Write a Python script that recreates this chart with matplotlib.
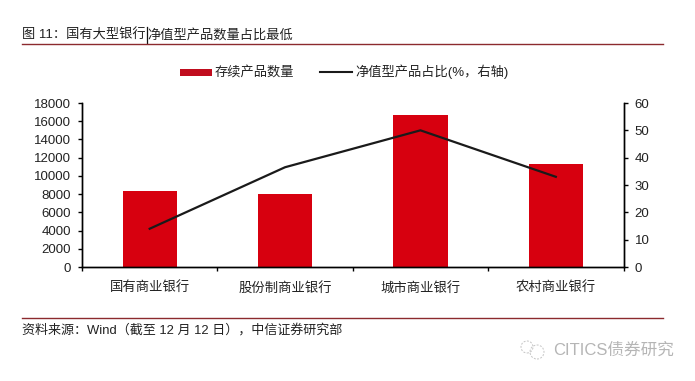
import matplotlib

matplotlib.use("Agg")
matplotlib.rcParams["font.family"] = ["Liberation Sans", "Noto Sans CJK SC"]
matplotlib.rcParams["axes.unicode_minus"] = False

import matplotlib.pyplot as plt
from matplotlib.lines import Line2D
from matplotlib.patches import Ellipse, Rectangle

CATEGORIES = ["国有商业银行", "股份制商业银行", "城市商业银行", "农村商业银行"]
PRODUCT_COUNT = [8300, 8000, 16700, 11300]
NAV_SHARE = [14, 36.5, 50, 33]
LEFT_TICKS = list(range(0, 18001, 2000))
RIGHT_TICKS = list(range(0, 61, 10))

RED = "#d7000f"
RULE = "#8c2a2e"
INK = "#222222"
W, H = 695, 381


def fx(px):
    return px / W


def fy(py):
    return 1 - py / H


fig = plt.figure(figsize=(W / 100, H / 100), dpi=100, facecolor="white")
ax = fig.add_axes([fx(82), fy(267), fx(623.5 - 82), (267 - 103) / H])
ax.bar(range(4), PRODUCT_COUNT, width=0.4, color=RED, label="存续产品数量")
ax.set_xlim(-0.5, 3.5)
ax.set_ylim(0, 18000)
ax.set_yticks(LEFT_TICKS)
ax.set_xticks([-0.5, 0.5, 1.5, 2.5, 3.5])
ax.set_xticklabels([])
ax.tick_params(axis="y", direction="out", length=3, width=1, labelsize=9.5, labelcolor=INK, pad=5)
ax.tick_params(axis="x", direction="out", length=3, width=1)
for i, c in enumerate(CATEGORIES):
    ax.text(i, -2300, c, ha="center", va="center", fontsize=9.6, color=INK)

ax2 = ax.twinx()
ax2.plot(range(4), NAV_SHARE, color="#1a1a1a", linewidth=1.6)
ax2.set_ylim(0, 60)
ax2.set_yticks(RIGHT_TICKS)
ax2.tick_params(axis="y", direction="out", length=3, width=1, labelsize=9.5, labelcolor=INK, pad=5)
for a in (ax, ax2):
    a.spines["top"].set_visible(False)
    for s in ("left", "right", "bottom"):
        a.spines[s].set_linewidth(1)

# 제목, 범례, 출처: 픽셀 위치 기준
fig.text(fx(22), fy(35), "图 11：国有大型银行", fontsize=9.5, color=INK, va="center")
fig.text(fx(147), fy(35), "净值型产品数量占比最低", fontsize=9.5, color=INK, va="center")
fig.add_artist(Line2D([fx(146.5), fx(146.5)], [fy(27), fy(43)], color="#111111", linewidth=0.9))
fig.add_artist(Line2D([fx(22), fx(663)], [fy(43.5), fy(43.5)], color=RULE, linewidth=1))
fig.add_artist(Line2D([fx(22), fx(663)], [fy(317.5), fy(317.5)], color=RULE, linewidth=1))

fig.add_artist(Rectangle((fx(180), fy(76)), 32 / W, 7 / H, facecolor="#c00d1e", edgecolor="none"))
fig.text(fx(215), fy(72), "存续产品数量", fontsize=9.5, color=INK, va="center")
fig.add_artist(Line2D([fx(320), fx(352)], [fy(72), fy(72)], color="#1a1a1a", linewidth=1.5))
fig.text(fx(355), fy(72), "净值型产品占比(%，右轴)", fontsize=9.5, color=INK, va="center")

fig.text(fx(22), fy(330), "资料来源：Wind（截至 12 月 12 日），中信证券研究部", fontsize=9.4, color=INK, va="center")

# 워터마크
fig.text(fx(553), fy(350), "CITICS债券研究", fontsize=12, color="#b5b5b5", va="center")
for cx, cy, r in [(527, 347, 6), (537, 352, 7)]:
    fig.add_artist(Ellipse((fx(cx), fy(cy)), 2 * r / W, 2 * r / H, transform=fig.transFigure, fill=False,
                           edgecolor="#c4c4c4", linewidth=0.7, linestyle=(0, (2, 1.5))))

fig.savefig("out.png", dpi=100, facecolor="white")
